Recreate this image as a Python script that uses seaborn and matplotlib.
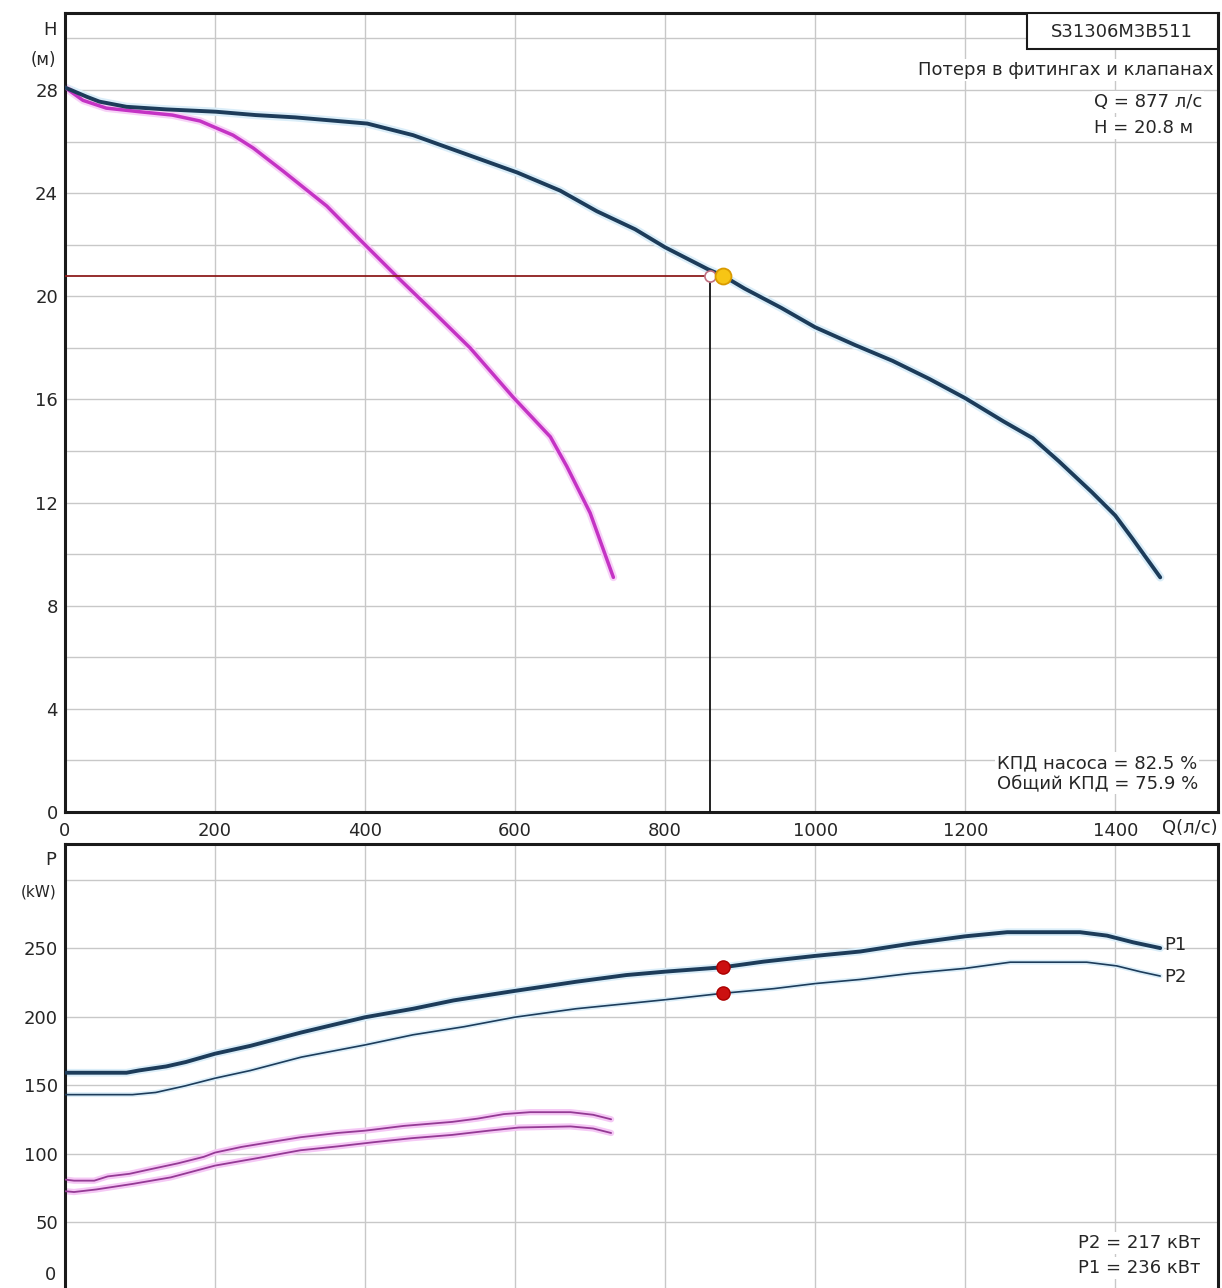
import numpy as np
import matplotlib
matplotlib.use("Agg")
import matplotlib.pyplot as plt
import seaborn as sns
from matplotlib.patches import Rectangle

# --- data ---
# main pump head curve H(Q)
q_pump = [0, 29, 46, 82, 135, 201, 254, 307, 403, 464, 536, 603, 660, 709, 760,
          800, 857, 877, 906, 955, 1000, 1054, 1103, 1152, 1200, 1251, 1290,
          1325, 1369, 1400, 1423, 1460]
h_pump = [28.1, 27.74, 27.55, 27.35, 27.25, 27.16, 27.03, 26.94, 26.7, 26.25, 25.5,
          24.8, 24.1, 23.3, 22.6, 21.9, 21.05, 20.8, 20.3, 19.55, 18.8, 18.1, 17.5,
          16.8, 16.05, 15.15, 14.5, 13.6, 12.4, 11.5, 10.6, 9.1]

# second (magenta) head curve
q_mag = [0, 24, 55, 99, 143, 180, 224, 251, 291, 349, 393, 443, 491, 540, 597,
         647, 669, 700, 731]
h_mag = [28.1, 27.6, 27.3, 27.16, 27.03, 26.8, 26.25, 25.75, 24.85, 23.5, 22.2,
         20.75, 19.4, 18.0, 16.1, 14.55, 13.4, 11.6, 9.1]

# power curves, main pump
q_p1 = [0, 82, 99, 135, 161, 200, 247, 315, 400, 464, 518, 599, 681, 748, 800,
        877, 931, 1000, 1060, 1127, 1200, 1256, 1353, 1389, 1424, 1460]
p1 = [159, 159, 160.7, 163.6, 166.8, 172.9, 178.6, 188.4, 199.5, 205.7, 211.8,
      218.7, 225.4, 230.3, 232.8, 236, 240.1, 244.3, 247.5, 253.2, 258.6, 261.6,
      261.6, 259.1, 254.2, 250]
q_p2 = [0, 90, 121, 161, 200, 247, 315, 400, 464, 532, 599, 681, 748, 800, 877,
        945, 1000, 1060, 1127, 1200, 1260, 1362, 1402, 1433, 1460]
p2 = [143, 143, 144.6, 149.5, 155, 160.6, 170.4, 179.3, 186.7, 192.6, 199.5,
      205.7, 209.4, 212.3, 217, 220.4, 224.1, 227.1, 231.5, 235.2, 239.7, 239.7,
      237, 232.8, 229.6]

# power curves, magenta pump
q_mp1 = [0, 12, 39, 57, 86, 116, 151, 185, 200, 235, 279, 314, 363, 400, 452,
         516, 550, 585, 620, 674, 704, 728]
mp1 = [81, 80.2, 80.2, 83.3, 85.2, 88.8, 92.9, 97.6, 100.7, 104.8, 108.8, 111.9,
       115, 116.7, 120.2, 123.1, 125.5, 128.8, 130.2, 130.2, 128.3, 125]
q_mp2 = [0, 12, 42, 91, 141, 200, 259, 314, 363, 412, 462, 516, 565, 605, 674,
         704, 728]
mp2 = [72.5, 71.9, 73.8, 77.9, 82.6, 91.2, 96.9, 102.4, 105.2, 108.3, 111.2,
       113.6, 116.7, 119.0, 119.8, 118.3, 115]

# duty point
q_duty = 877
h_duty = 20.8
q_req = 860
p1_duty = 236
p2_duty = 217

x_ticks = [0, 200, 400, 600, 800, 1000, 1200, 1400]
h_ticks = list(range(0, 31, 2))
p_ticks = list(range(0, 301, 50))

DARK = "#1d3c5a"
MAG = "#c433c4"
GRID = "#c8c8c8"
TXT = "#262626"

sns.set_theme(style="white")
plt.rcParams["font.family"] = ["DejaVu Sans"]
plt.rcParams["font.size"] = 13

fig = plt.figure(figsize=(12.22, 12.88), dpi=100)
W, H = 1222.0, 1288.0
ax1 = fig.add_axes([65 / W, (H - 812) / H, 1153 / W, 799.3 / H])
ax2 = fig.add_axes([65 / W, (H - 1290.5) / H, 1153 / W, 446.5 / H])

for ax in (ax1, ax2):
    ax.set_xlim(0, 1537)
    ax.set_xticks(x_ticks)
    ax.grid(True, color=GRID, lw=1.0)
    ax.set_axisbelow(True)
    for s in ax.spines.values():
        s.set_visible(True)
        s.set_color("#1a1a1a")
        s.set_linewidth(2.2)
    ax.tick_params(length=0, colors=TXT, labelsize=13)
    ax.set_xlabel("")
    ax.set_ylabel("")

############################################################
# top panel: head
ax1.set_ylim(0, 31)
ax1.set_yticks(h_ticks)
ax1.set_yticklabels([str(v) if v % 4 == 0 and v <= 28 else "" for v in h_ticks])
ax1.tick_params(axis="y", pad=5)
ax1.tick_params(axis="x", pad=7)

sns.lineplot(x=q_pump, y=h_pump, ax=ax1, color="#dbeef9", lw=6, zorder=2)
sns.lineplot(x=q_mag, y=h_mag, ax=ax1, color="#f7d2f7", lw=5.5, zorder=2)
sns.lineplot(x=q_mag, y=h_mag, ax=ax1, color=MAG, lw=2.5, zorder=3)
sns.lineplot(x=q_pump, y=h_pump, ax=ax1, color=DARK, lw=2.8, zorder=4)

# duty point guide lines
ax1.plot([0, q_req], [h_duty, h_duty], color="#8e1c1c", lw=1.3, zorder=5)
ax1.plot([q_req, q_req], [0, h_duty], color="#111111", lw=1.3, zorder=5)
ax1.plot([q_req], [h_duty], "o", ms=8, mfc="white", mec="#c07080", mew=1.2, zorder=6)
ax1.plot([q_duty], [h_duty], "o", ms=11.5, mfc="#f7c515", mec="#d99a00", mew=1.3, zorder=7)

ax1.text(-0.0075, 0.9784, "H", transform=ax1.transAxes, ha="right", va="center",
         color=TXT, fontsize=13)
ax1.text(-0.0075, 0.9408, "(м)", transform=ax1.transAxes, ha="right", va="center",
         color=TXT, fontsize=12)
ax1.text(1500, -0.02, "Q(л/с)", transform=ax1.get_xaxis_transform(), ha="center",
         va="center", color=TXT, fontsize=13)

ax1.add_patch(Rectangle((0.834, 0.9546), 0.166, 0.0454, transform=ax1.transAxes,
                        facecolor="white", edgecolor="#1a1a1a", lw=1.5, zorder=8))
ax1.text(0.9167, 0.9759, "S31306M3B511", transform=ax1.transAxes, ha="center",
         va="center", color=TXT, fontsize=13, zorder=9)

box = dict(facecolor="white", edgecolor="none", pad=1.5)
ax1.text(0.9957, 0.9283, "Потеря в фитингах и клапанах", transform=ax1.transAxes,
         ha="right", va="center", color=TXT, fontsize=13, bbox=box, zorder=8)
ax1.text(0.8924, 0.8883, f"Q = {q_duty} л/с", transform=ax1.transAxes,
         ha="left", va="center", color=TXT, fontsize=13, bbox=box, zorder=8)
ax1.text(0.8924, 0.8558, f"H = {h_duty} м", transform=ax1.transAxes,
         ha="left", va="center", color=TXT, fontsize=13, bbox=box, zorder=8)
ax1.text(0.8083, 0.0613, "КПД насоса = 82.5 %", transform=ax1.transAxes,
         ha="left", va="center", color=TXT, fontsize=13, bbox=box, zorder=8)
ax1.text(0.8083, 0.0363, "Общий КПД = 75.9 %", transform=ax1.transAxes,
         ha="left", va="center", color=TXT, fontsize=13, bbox=box, zorder=8)

############################################################
# bottom panel: power
ax2.set_ylim(0, 326)
ax2.set_yticks(p_ticks)
ax2.set_yticklabels([str(v) if 0 < v <= 250 else "" for v in p_ticks])
ax2.set_xticklabels([])
ax2.tick_params(axis="y", pad=5)

sns.lineplot(x=q_mp1, y=mp1, ax=ax2, color="#f5c8f5", lw=4.5, zorder=2)
sns.lineplot(x=q_mp2, y=mp2, ax=ax2, color="#f5c8f5", lw=4.5, zorder=2)
sns.lineplot(x=q_mp1, y=mp1, ax=ax2, color="#943a94", lw=1.3, zorder=3)
sns.lineplot(x=q_mp2, y=mp2, ax=ax2, color="#943a94", lw=1.3, zorder=3)

sns.lineplot(x=q_p1, y=p1, ax=ax2, color="#dbeef9", lw=5.5, zorder=2)
sns.lineplot(x=q_p2, y=p2, ax=ax2, color="#dbeef9", lw=3.5, zorder=2)
sns.lineplot(x=q_p1, y=p1, ax=ax2, color=DARK, lw=2.8, zorder=4)
sns.lineplot(x=q_p2, y=p2, ax=ax2, color=DARK, lw=1.2, zorder=4)

ax2.plot([q_duty, q_duty], [p1_duty, p2_duty], "o", ms=9.5, mfc="#cc1010",
         mec="#aa0000", lw=0, zorder=6)

ax2.text(q_p1[-1] + 6, p1[-1] + 2, "P1", ha="left", va="center", color=TXT, fontsize=13)
ax2.text(q_p2[-1] + 6, p2[-1] - 1, "P2", ha="left", va="center", color=TXT, fontsize=13)

ax2.text(-0.0075, 0.964, "P", transform=ax2.transAxes, ha="right", va="center",
         color=TXT, fontsize=13)
ax2.text(-0.0075, 0.8925, "(kW)", transform=ax2.transAxes, ha="right", va="center",
         color=TXT, fontsize=11)
ax2.text(-0.0075, 0.0347, "0", transform=ax2.transAxes, ha="right", va="center",
         color=TXT, fontsize=13)

ax2.text(0.8786, 0.1064, f"P2 = {p2_duty} кВт", transform=ax2.transAxes,
         ha="left", va="center", color=TXT, fontsize=13, bbox=box, zorder=8)
ax2.text(0.8786, 0.0503, f"P1 = {p1_duty} кВт", transform=ax2.transAxes,
         ha="left", va="center", color=TXT, fontsize=13, bbox=box, zorder=8)

fig.savefig("out.png", dpi=100)
